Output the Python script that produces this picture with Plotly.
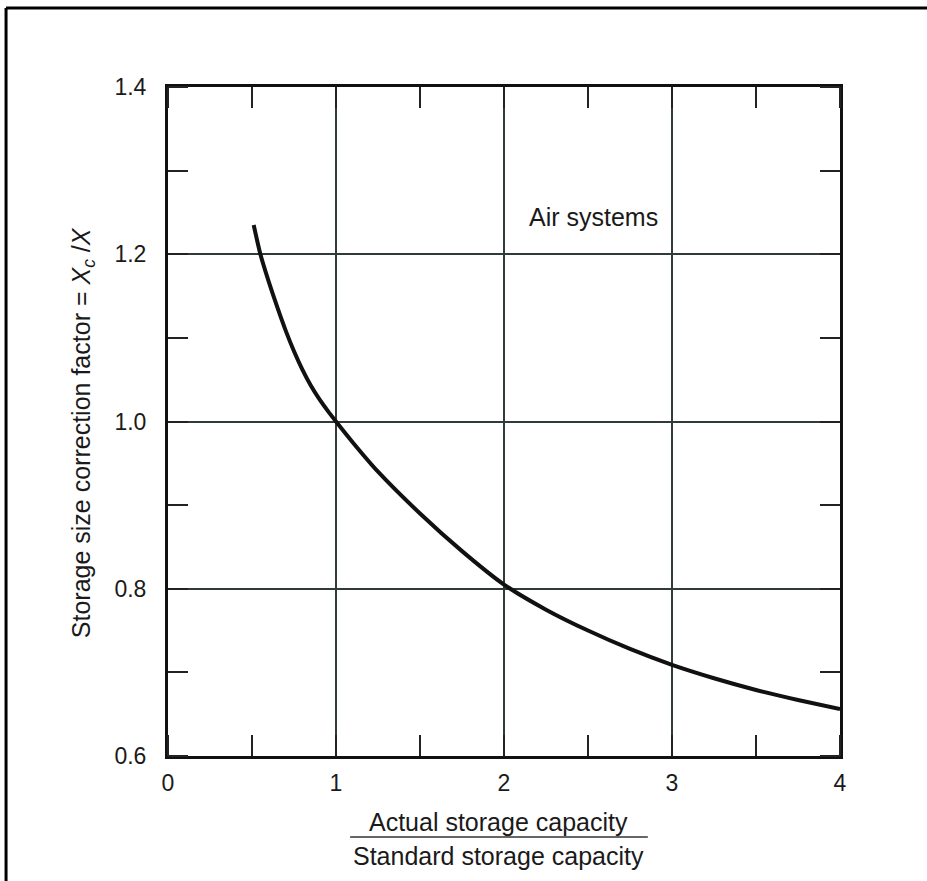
import plotly.graph_objects as go

# Curve
ratio = [0.51, 0.55, 0.60, 0.65, 0.70, 0.75, 0.80, 0.85, 0.90, 0.95, 1.00, 1.10,
         1.25, 1.50, 1.75, 2.00, 2.25, 2.50, 2.75, 3.00, 3.25, 3.50, 3.75, 4.00]
factor = [1.235, 1.200, 1.167, 1.137, 1.109, 1.084, 1.062, 1.043, 1.027, 1.013, 1.000, 0.975,
          0.940, 0.890, 0.845, 0.805, 0.775, 0.750, 0.728, 0.709, 0.693, 0.679, 0.667, 0.656]

x_ticks = [0, 1, 2, 3, 4]
x_labels = ["0", "1", "2", "3", "4"]
y_ticks = [0.6, 0.8, 1.0, 1.2, 1.4]
y_labels = ["0.6", "0.8", "1.0", "1.2", "1.4"]

FONT = "Liberation Sans"
INK = "#1a1a1a"
GRID = "#2f3a3a"

fig = go.Figure()
fig.add_trace(go.Scatter(
    x=ratio, y=factor, mode="lines",
    line=dict(color="#111111", width=4, shape="spline", smoothing=0.6),
    hoverinfo="skip", showlegend=False,
))

fig.update_layout(
    width=927, height=881,
    margin=dict(l=168, r=87, t=87, b=125),
    paper_bgcolor="white", plot_bgcolor="white",
    font=dict(family=FONT, size=23, color=INK),
    showlegend=False,
    xaxis=dict(
        range=[0, 4], tickvals=x_ticks, ticktext=x_labels,
        showgrid=True, gridcolor=GRID, gridwidth=2,
        showline=True, linecolor="#111111", linewidth=3, mirror="allticks",
        ticks="", ticklabelstandoff=4, zeroline=False,
        minor=dict(dtick=0.5, tick0=0, ticks="inside", ticklen=21,
                   tickcolor="#222222", tickwidth=2, showgrid=False),
        tickfont=dict(family=FONT, size=23, color=INK),
    ),
    yaxis=dict(
        range=[0.6, 1.4], tickvals=y_ticks, ticktext=y_labels,
        showgrid=True, gridcolor=GRID, gridwidth=2,
        showline=True, linecolor="#111111", linewidth=3, mirror="allticks",
        ticks="", ticklabelstandoff=14, zeroline=False,
        minor=dict(dtick=0.1, tick0=0.6, ticks="inside", ticklen=20,
                   tickcolor="#222222", tickwidth=2, showgrid=False),
        tickfont=dict(family=FONT, size=23, color=INK),
    ),
)

# Outer frame of the figure (top and left edges visible)
fig.add_shape(type="line", xref="paper", yref="paper",
              x0=-0.241, x1=1.2, y0=1.118, y1=1.118,
              line=dict(color="black", width=3), layer="below")
fig.add_shape(type="line", xref="paper", yref="paper",
              x0=-0.241, x1=-0.241, y0=-0.3, y1=1.118,
              line=dict(color="black", width=3), layer="below")

# Y-axis title
fig.add_annotation(
    xref="paper", yref="paper", x=-0.1265, y=0.484,
    xanchor="center", yanchor="middle",
    text="Storage size correction factor = <i>X<sub>c</sub></i> /<i>X</i>",
    textangle=-90, showarrow=False, font=dict(family=FONT, size=25, color=INK),
)

# Curve label
fig.add_annotation(x=2.53, y=1.245, text="Air systems", showarrow=False,
                   xanchor="center", yanchor="middle",
                   font=dict(family=FONT, size=25, color=INK))

# X-axis title as a fraction
fig.add_annotation(xref="paper", yref="paper", x=0.492, y=-0.0987,
                   xanchor="center", yanchor="middle",
                   text="Actual storage capacity", showarrow=False,
                   font=dict(family=FONT, size=25, color=INK))
fig.add_annotation(xref="paper", yref="paper", x=0.492, y=-0.1495,
                   xanchor="center", yanchor="middle",
                   text="Standard storage capacity", showarrow=False,
                   font=dict(family=FONT, size=25, color=INK))
fig.add_shape(type="line", xref="paper", yref="paper",
              x0=0.271, x1=0.714, y0=-0.121, y1=-0.121,
              line=dict(color="#333333", width=1.5))

fig.write_html("out.html")
